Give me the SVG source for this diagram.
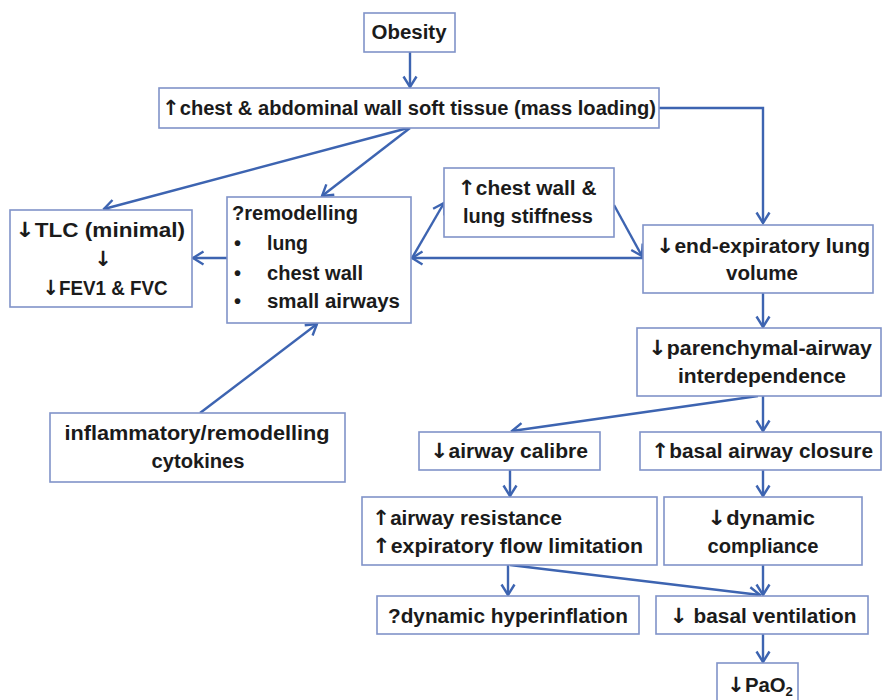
<svg xmlns="http://www.w3.org/2000/svg" width="883" height="700" viewBox="0 0 883 700">
<defs>
<marker id="ah" markerUnits="userSpaceOnUse" markerWidth="14" markerHeight="16" viewBox="0 0 14 16" refX="12.5" refY="8" orient="auto">
<path d="M2,1.5 L12.5,8 L2,14.5" fill="none" stroke="#3d64b1" stroke-width="2.4" stroke-linejoin="miter"/>
</marker>
<style>
.box{fill:#fff;stroke:#8093c9;stroke-width:1.6}
text{font-family:"Liberation Sans",Arial,sans-serif;font-weight:bold;font-size:20px;fill:#1b1b1b}
.a{font-family:"DejaVu Sans",sans-serif;font-weight:bold;font-size:21px;fill:#1b1b1b}
.c{text-anchor:middle}
.cn path{fill:none;stroke:#3d64b1;stroke-width:2.4;marker-end:url(#ah)}
</style>
</defs>
<rect width="883" height="700" fill="#fff"/>
<g class="cn" id="connectors">
<path d="M410,52 V87"/>
<path d="M659,108 H763 V223"/>
<path d="M408,128 L104,209"/>
<path d="M410,128 L322,196"/>
<path d="M227,258 H193"/>
<path d="M643,258 H412"/>
<path d="M412,258 L444,203"/>
<path d="M614,205 L642,256"/>
<path d="M763,293 V327"/>
<path d="M758,396 L512,431"/>
<path d="M763,396 V431"/>
<path d="M510,470 V496"/>
<path d="M763,470 V496"/>
<path d="M508,565 V595"/>
<path d="M510,565 L760,595"/>
<path d="M763,565 V595"/>
<path d="M763,634 V662"/>
<path d="M200,413 L317,324"/>
</g>
<g id="obesity"><rect class="box" x="364" y="13" width="91" height="39"/><text class="c" x="409" y="39" textLength="75" lengthAdjust="spacingAndGlyphs">Obesity</text></g>
<g id="mass"><rect class="box" x="159" y="88" width="500" height="40"/><text class="c" x="409" y="115" textLength="494" lengthAdjust="spacingAndGlyphs"><tspan class="a">↑</tspan>chest &amp; abdominal wall soft tissue (mass loading)</text></g>
<g id="tlc"><rect class="box" x="10" y="210" width="182" height="97"/>
<text class="c" x="100" y="237" textLength="170" lengthAdjust="spacingAndGlyphs"><tspan class="a">↓</tspan>TLC (minimal)</text>
<text class="c" x="103" y="266"><tspan class="a">↓</tspan></text>
<text class="c" x="105" y="295" textLength="125" lengthAdjust="spacingAndGlyphs"><tspan class="a">↓</tspan>FEV1 &amp; FVC</text></g>
<g id="remodelling"><rect class="box" x="227" y="197" width="184" height="126"/>
<text x="232" y="220" textLength="126" lengthAdjust="spacingAndGlyphs">?remodelling</text>
<text x="234" y="250">•</text><text x="267" y="250" textLength="41" lengthAdjust="spacingAndGlyphs">lung</text>
<text x="234" y="280">•</text><text x="267" y="280" textLength="96" lengthAdjust="spacingAndGlyphs">chest wall</text>
<text x="234" y="308">•</text><text x="267" y="308" textLength="133" lengthAdjust="spacingAndGlyphs">small airways</text></g>
<g id="stiffness"><rect class="box" x="444" y="168" width="170" height="69"/>
<text class="c" x="527" y="195" textLength="139" lengthAdjust="spacingAndGlyphs"><tspan class="a">↑</tspan>chest wall &amp;</text>
<text class="c" x="528" y="223" textLength="130" lengthAdjust="spacingAndGlyphs">lung stiffness</text></g>
<g id="endexp"><rect class="box" x="643" y="225" width="230" height="68"/>
<text class="c" x="763" y="253" textLength="214" lengthAdjust="spacingAndGlyphs"><tspan class="a">↓</tspan>end-expiratory lung</text>
<text class="c" x="762" y="280" textLength="72" lengthAdjust="spacingAndGlyphs">volume</text></g>
<g id="parenchymal"><rect class="box" x="637" y="328" width="244" height="68"/>
<text class="c" x="760" y="355" textLength="224" lengthAdjust="spacingAndGlyphs"><tspan class="a">↓</tspan>parenchymal-airway</text>
<text class="c" x="762" y="383" textLength="168" lengthAdjust="spacingAndGlyphs">interdependence</text></g>
<g id="calibre"><rect class="box" x="419" y="432" width="181" height="38"/>
<text class="c" x="509" y="458" textLength="158" lengthAdjust="spacingAndGlyphs"><tspan class="a">↓</tspan>airway calibre</text></g>
<g id="closure"><rect class="box" x="640" y="432" width="241" height="38"/>
<text class="c" x="762" y="458" textLength="222" lengthAdjust="spacingAndGlyphs"><tspan class="a">↑</tspan>basal airway closure</text></g>
<g id="cytokines"><rect class="box" x="50" y="413" width="295" height="69"/>
<text class="c" x="197" y="440" textLength="265" lengthAdjust="spacingAndGlyphs">inflammatory/remodelling</text>
<text class="c" x="198" y="468" textLength="93" lengthAdjust="spacingAndGlyphs">cytokines</text></g>
<g id="resistance"><rect class="box" x="362" y="497" width="295" height="68"/>
<text x="372" y="525" textLength="190" lengthAdjust="spacingAndGlyphs"><tspan class="a">↑</tspan>airway resistance</text>
<text x="372" y="553" textLength="271" lengthAdjust="spacingAndGlyphs"><tspan class="a">↑</tspan>expiratory flow limitation</text></g>
<g id="compliance"><rect class="box" x="664" y="497" width="198" height="68"/>
<text class="c" x="761" y="525" textLength="108" lengthAdjust="spacingAndGlyphs"><tspan class="a">↓</tspan>dynamic</text>
<text class="c" x="763" y="553" textLength="111" lengthAdjust="spacingAndGlyphs">compliance</text></g>
<g id="hyperinflation"><rect class="box" x="377" y="596" width="262" height="38"/>
<text class="c" x="508" y="623" textLength="240" lengthAdjust="spacingAndGlyphs">?dynamic hyperinflation</text></g>
<g id="ventilation"><rect class="box" x="656" y="596" width="212" height="38"/>
<text class="c" x="763" y="623" textLength="187" lengthAdjust="spacingAndGlyphs"><tspan class="a">↓</tspan> basal ventilation</text></g>
<g id="pao2"><rect class="box" x="717" y="663" width="81" height="45"/>
<text x="727" y="692" textLength="66" lengthAdjust="spacingAndGlyphs"><tspan class="a">↓</tspan>PaO<tspan font-size="13" dy="4">2</tspan></text></g>
</svg>
